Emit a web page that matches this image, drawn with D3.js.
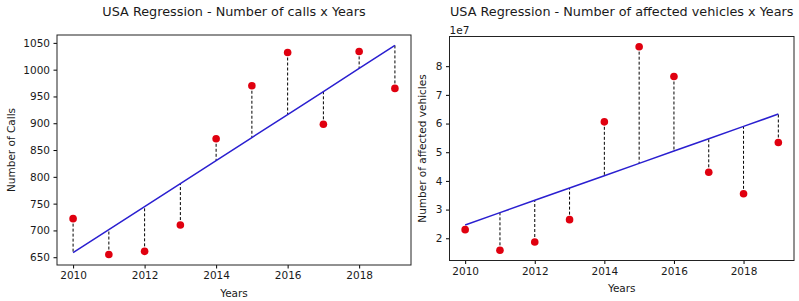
<!DOCTYPE html>
<html lang="en">
<head>
  <meta charset="UTF-8">
  <title>USA Regression</title>
  <script src="https://d3js.org/d3.v7.min.js"></script>
  <style>
    body { margin: 0; background: #fff; }
    text { font-family: "DejaVu Sans", sans-serif; fill: #1a1a1a; }
  </style>
</head>
<body>
<svg></svg>
<script>
  const years = [2010, 2011, 2012, 2013, 2014, 2015, 2016, 2017, 2018, 2019]
  const calls = [722, 655, 661, 710, 871, 970, 1032, 898, 1034, 965]
  const vehicles = [2.30e7, 1.58e7, 1.87e7, 2.65e7, 6.06e7, 8.68e7, 7.64e7, 4.30e7, 3.55e7, 5.34e7]
  const xTicks = [2010, 2012, 2014, 2016, 2018]
  const callTicks = [650, 700, 750, 800, 850, 900, 950, 1000, 1050]
  const vehicleTicks = [2e7, 3e7, 4e7, 5e7, 6e7, 7e7, 8e7]

  const width = 799, height = 301

  const svg = d3.select('svg')
      .attr('width', width)
      .attr('height', height)
      .attr('viewBox', [0, 0, width, height])

  // least squares fit
  function fit(xs, ys) {
    const mx = d3.mean(xs), my = d3.mean(ys)
    const b = d3.sum(xs, (x, i) => (x - mx) * (ys[i] - my)) / d3.sum(xs, x => (x - mx) ** 2)
    return x => my + b * (x - mx)
  }

  function panel(box, values, yTicks, tickFmt, title, yLabel, offsetText) {
    const f = fit(years, values)
    const pred = years.map(f)

    const x = d3.scaleLinear()
        .domain([2009.55, 2019.45])
        .range([box.left, box.right])

    const lo = d3.min([...values, ...pred]), hi = d3.max([...values, ...pred])
    const pad = (hi - lo) * 0.05
    const y = d3.scaleLinear()
        .domain([lo - pad, hi + pad])
        .range([box.bottom, box.top])

    const g = svg.append('g')

    g.append('g')
        .attr('transform', `translate(0,${box.bottom})`)
        .call(d3.axisBottom(x).tickValues(xTicks).tickFormat(d3.format('d')).tickSize(3.5).tickPadding(3.5))
        .call(a => a.select('.domain').remove())
        .call(a => a.selectAll('text').attr('font-size', 10.5).attr('font-family', 'DejaVu Sans').attr('fill', '#1a1a1a'))

    g.append('g')
        .attr('transform', `translate(${box.left},0)`)
        .call(d3.axisLeft(y).tickValues(yTicks).tickFormat(tickFmt).tickSize(3.5).tickPadding(3.5))
        .call(a => a.select('.domain').remove())
        .call(a => a.selectAll('text').attr('font-size', 10.5).attr('font-family', 'DejaVu Sans').attr('fill', '#1a1a1a'))

    // residual lines
    g.append('g')
      .selectAll('line')
      .data(years)
      .join('line')
        .attr('x1', d => x(d))
        .attr('x2', d => x(d))
        .attr('y1', (d, i) => y(values[i]))
        .attr('y2', (d, i) => y(pred[i]))
        .attr('stroke', '#000')
        .attr('stroke-width', 1)
        .attr('stroke-dasharray', '3,2')

    g.append('path')
        .datum(years)
        .attr('fill', 'none')
        .attr('stroke', '#2a1fd0')
        .attr('stroke-width', 1.5)
        .attr('d', d3.line().x(d => x(d)).y(d => y(f(d))))

    g.append('g')
      .selectAll('circle')
      .data(years)
      .join('circle')
        .attr('cx', d => x(d))
        .attr('cy', (d, i) => y(values[i]))
        .attr('r', 3.8)
        .attr('fill', '#e0000f')

    g.append('rect')
        .attr('x', box.left)
        .attr('y', box.top)
        .attr('width', box.right - box.left)
        .attr('height', box.bottom - box.top)
        .attr('fill', 'none')
        .attr('stroke', '#222')
        .attr('stroke-width', 1)

    g.append('text')
        .attr('x', (box.left + box.right) / 2)
        .attr('y', 16)
        .attr('text-anchor', 'middle')
        .attr('font-size', 12.8)
        .text(title)

    g.append('text')
        .attr('transform', `translate(${box.ylab},${(box.top + box.bottom) / 2}) rotate(-90)`)
        .attr('text-anchor', 'middle')
        .attr('font-size', 10.5)
        .text(yLabel)

    g.append('text')
        .attr('x', (box.left + box.right) / 2)
        .attr('y', box.bottom + box.xlab)
        .attr('text-anchor', 'middle')
        .attr('font-size', 10.5)
        .text('Years')

    if (offsetText) {
      g.append('text')
          .attr('x', box.left)
          .attr('y', box.top - 3)
          .attr('font-size', 10.5)
          .text(offsetText)
    }
  }

  panel({left: 57, right: 411, top: 35, bottom: 265, ylab: 15, xlab: 32},
      calls, callTicks, d3.format('d'),
      'USA Regression - Number of calls x Years', 'Number of Calls')

  panel({left: 449.5, right: 794, top: 36.5, bottom: 260.5, ylab: 426, xlab: 31},
      vehicles, vehicleTicks, d => d / 1e7,
      'USA Regression - Number of affected vehicles x Years', 'Number of affected vehicles', '1e7')
</script>
</body>
</html>
